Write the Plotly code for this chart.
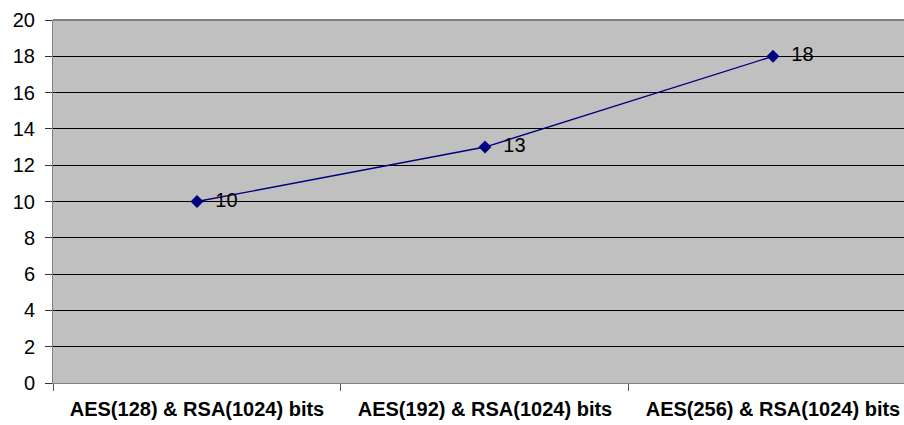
import plotly.graph_objects as go

# Encryption configurations and measured values
categories = ["AES(128) & RSA(1024) bits", "AES(192) & RSA(1024) bits", "AES(256) & RSA(1024) bits"]
values = [10, 13, 18]
y_ticks = [0, 2, 4, 6, 8, 10, 12, 14, 16, 18, 20]

x_pos = list(range(len(categories)))
FONT = "Liberation Sans, Arial, sans-serif"

fig = go.Figure()
fig.add_trace(go.Scatter(
    x=x_pos,
    y=values,
    mode="lines+markers+text",
    line=dict(color="#000080", width=1.4),
    marker=dict(symbol="diamond", size=10, color="#000080"),
    text=["  " + str(v) for v in values],
    textposition="middle right",
    textfont=dict(family=FONT, size=20, color="black"),
    cliponaxis=False,
    showlegend=False,
))

fig.update_layout(
    width=904,
    height=425,
    margin=dict(l=53, r=0, t=20, b=42),
    paper_bgcolor="white",
    plot_bgcolor="#C0C0C0",
    font=dict(family=FONT, color="black"),
    xaxis=dict(
        range=[-0.5, 2.455],
        tickmode="array",
        tickvals=x_pos,
        ticktext=categories,
        ticks="",
        tickfont=dict(size=20, family=FONT, weight="bold"),
        ticklabelstandoff=8,
        showgrid=False,
        showline=True,
        linecolor="#808080",
        linewidth=1,
        zeroline=False,
        minor=dict(tick0=-0.5, dtick=1, ticks="outside", ticklen=7, tickcolor="#555555", tickwidth=1, showgrid=False),
    ),
    yaxis=dict(
        range=[0, 20],
        tickmode="array",
        tickvals=y_ticks,
        ticks="outside",
        ticklen=7,
        tickcolor="#333333",
        tickfont=dict(size=20),
        ticklabelstandoff=6,
        showgrid=True,
        gridcolor="black",
        gridwidth=1,
        showline=True,
        linecolor="#808080",
        linewidth=1,
        zeroline=False,
    ),
)

# Grey frame along the top of the plot area
fig.add_shape(type="line", xref="paper", yref="paper", x0=0, x1=1, y0=1, y1=1,
              line=dict(color="#808080", width=2))

fig.write_html("out.html")
